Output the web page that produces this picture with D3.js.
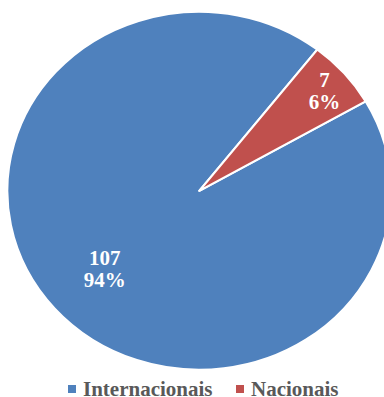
<!DOCTYPE html>
<html>
<head>
<meta charset="utf-8">
<script src="https://cdn.jsdelivr.net/npm/d3@7"></script>
<style>
  body { margin: 0; background: #fff; }
  svg { display: block; }
  text { font-family: 'Liberation Serif', 'Times New Roman', Times, serif; font-weight: bold; }
</style>
</head>
<body>
<div id="container"></div>
<script>
const categories = ['Internacionais', 'Nacionais'];
const values = [107, 7];
const percents = ['94%', '6%'];
const colors = ['#4F81BD', '#C0504D'];

const width = 384;
const height = 397;
const cx = 199.3;
const cy = 190.8;
const ry = 179;       // vertical radius
const rx = 192;       // pie is a bit stretched sideways
const startDeg = 60;  // first slice angle

const svg = d3.select('#container')
  .append('svg')
  .attr('width', width)
  .attr('height', height);

const pie = d3.pie()
  .sort(null)
  .value(d => d)
  .startAngle(startDeg * Math.PI / 180)
  .endAngle((startDeg + 360) * Math.PI / 180);

const arcs = pie(values);

const arc = d3.arc()
  .innerRadius(0)
  .outerRadius(ry);

const g = svg.append('g')
  .attr('transform', `translate(${cx},${cy}) scale(${rx / ry},1)`);

g.selectAll('path')
  .data(arcs)
  .enter()
  .append('path')
  .attr('d', arc)
  .attr('fill', (d, i) => colors[i])
  .attr('stroke', '#fff')
  .attr('stroke-width', 2)
  .attr('stroke-linejoin', 'round');

// data labels (excel "best fit" -> big slice sits nearer the middle)
const labelFrac = i => (i === 0 ? 0.653 : 0.864);

arcs.forEach((d, i) => {
  const mid = (d.startAngle + d.endAngle) / 2;
  const x = cx + Math.sin(mid) * rx * labelFrac(i);
  const y = cy - Math.cos(mid) * ry * labelFrac(i);
  const t = svg.append('text')
    .attr('x', x)
    .attr('y', y)
    .attr('text-anchor', 'middle')
    .attr('fill', '#fff')
    .attr('font-size', '21px');
  t.append('tspan').attr('x', x).attr('dy', '-0.12em').text(values[i]);
  t.append('tspan').attr('x', x).attr('dy', '1.05em').text(percents[i]);
});

// legend
const legendX = [68, 236];
const legend = svg.append('g');
categories.forEach((c, i) => {
  legend.append('rect')
    .attr('x', legendX[i])
    .attr('y', 385)
    .attr('width', 8)
    .attr('height', 8)
    .attr('fill', colors[i]);
  legend.append('text')
    .attr('x', legendX[i] + 15)
    .attr('y', 395.5)
    .attr('fill', '#595959')
    .attr('font-size', '21px')
    .text(c);
});
</script>
</body>
</html>
